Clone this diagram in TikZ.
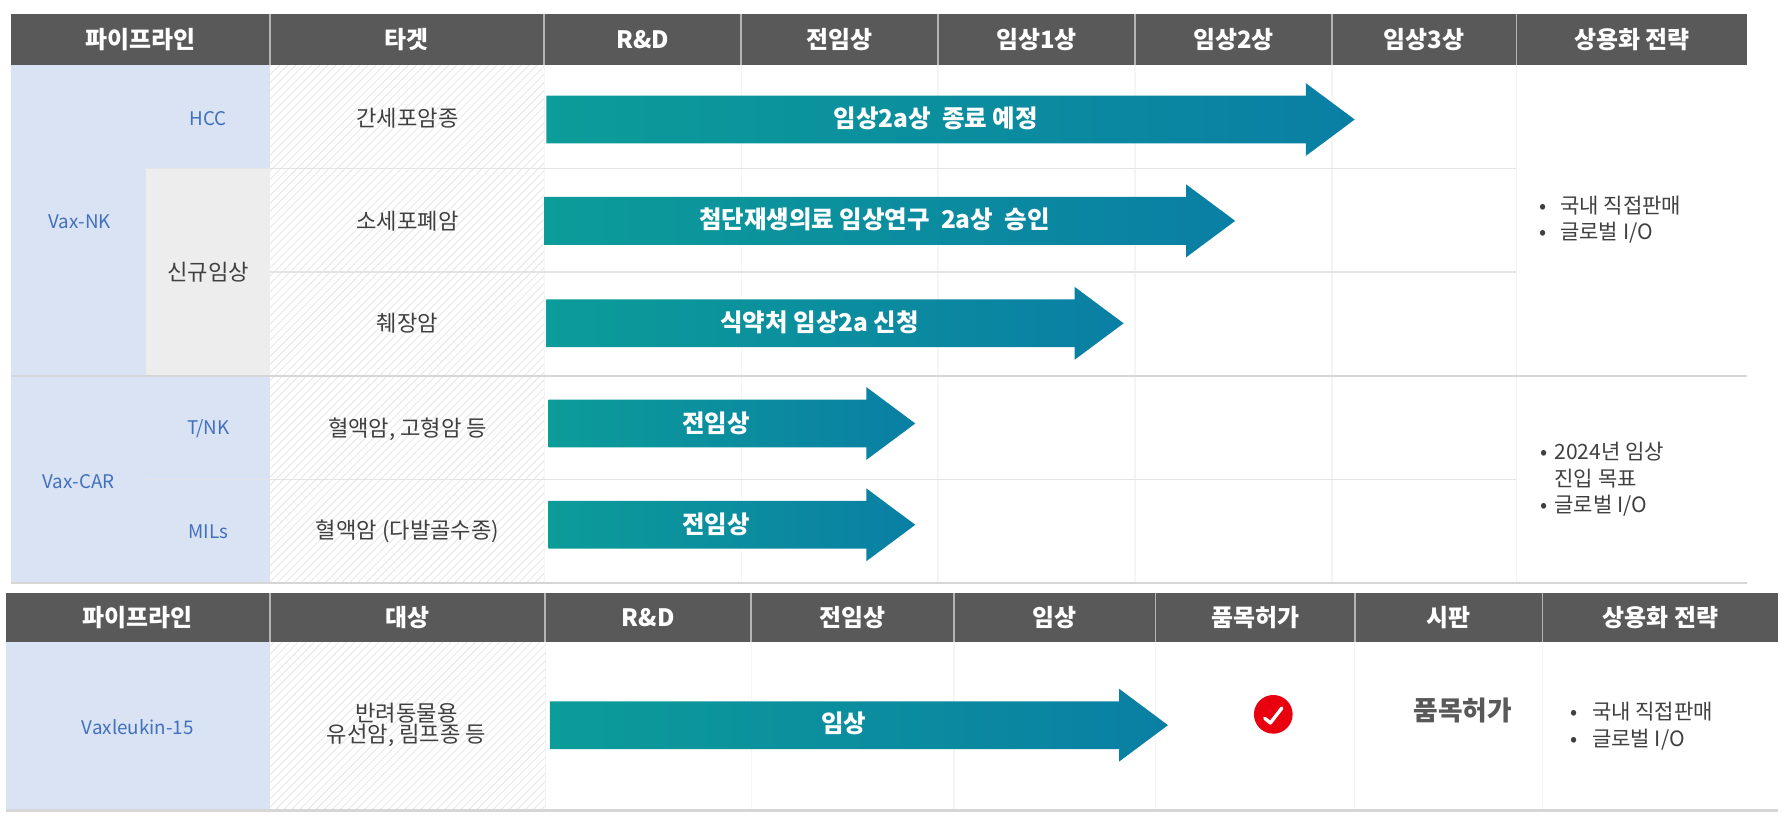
\documentclass[tikz,border=0pt]{standalone}
\usepackage{fontspec}
\setmainfont{Noto Sans CJK KR}
\usetikzlibrary{patterns.meta}
\definecolor{hdgray}{HTML}{595959}
\definecolor{hdline}{HTML}{B4B4B4}
\definecolor{pipeblue}{HTML}{DAE3F3}
\definecolor{pipetext}{HTML}{4170BD}
\definecolor{newgray}{HTML}{EDEDED}
\definecolor{rowline}{HTML}{E4E4E4}
\definecolor{mainline}{HTML}{D6D6D6}
\definecolor{colline}{HTML}{F5F5F5}
\definecolor{hatchgray}{HTML}{E6E6E6}
\definecolor{bodytext}{HTML}{404040}
\definecolor{arrL}{HTML}{0C9C99}
\definecolor{arrR}{HTML}{0A7FA4}
\definecolor{chkred}{HTML}{E8000F}
\begin{document}
\begin{tikzpicture}[x=1pt,y=-1pt,line join=round,
	hd/.style={text=white,font=\fontsize{21}{24}\selectfont\bfseries},
	pl/.style={text=pipetext,font=\fontsize{16.5}{19}\selectfont},
	tg/.style={text=bodytext,font=\fontsize{19.5}{22}\selectfont,align=center},
	br/.style={text=white,font=\fontsize{21.5}{24}\selectfont\bfseries},
	st/.style={text=bodytext,font=\fontsize{18.5}{23.5}\selectfont,align=left,anchor=west},
	sep/.style={rowline,line width=1.2pt},
	hatch/.style={pattern={Lines[angle=45,distance=5pt,line width=0.7pt]},pattern color=hatchgray}]
	\def\pbar#1#2#3{\shade[left color=arrL,right color=arrR] (#1,#3-21)--(#2-43,#3-21)--(#2-43,#3-32)--(#2,#3)--(#2-43,#3+32)--(#2-43,#3+21)--(#1,#3+21)--cycle;}
	\def\bl#1{\makebox[#1pt][l]{•}}
	\fill[white] (0,0) rectangle (1568,720);
	\useasboundingbox (0,0) rectangle (1568,720);
	% upper table
	\fill[pipeblue] (10,57) rectangle (237,512);
	\fill[newgray] (128,148) rectangle (237,330);
	\fill[hatch] (237,57) rectangle (478,512);
	\foreach \x in {478,651,824,997,1170,1332}
		\draw[colline,line width=1pt] (\x,57)--(\x,512);
	\draw[sep] (128,148)--(1332,148);
	\draw[sep] (237,239)--(1332,239);
	\draw[sep] (128,421)--(1332,421);
	\draw[mainline,line width=1.5pt] (10,330)--(1535,330);
	\draw[mainline,line width=2pt] (10,512)--(1535,512);
	\fill[hdgray] (10,12) rectangle (1535,57);
	\foreach \x in {237,478,651,824,997,1170,1332}
		\draw[hdline,line width=1.5pt] (\x,12)--(\x,57);
	\foreach \a/\b/\t [count=\i] in {10/237/파이프라인,237/478/타겟,478/651/R\&D,651/824/전임상,824/997/임상1상,997/1170/임상2상,1170/1332/임상3상,1332/1535/상용화 전략}
		\node[hd] (hA\i) at ({(\a+\b)/2},34.5) {\t};
	\node[pl] (vaxnk) at (70,195) {Vax-NK};
	\node[pl] (hcc) at (183,104) {HCC};
	\node[tg] (newcl) at (183,239) {신규임상};
	\node[pl] (vaxcar) at (69,423) {Vax-CAR};
	\node[pl] (tnk) at (183,377) {T/NK};
	\node[pl] (mils) at (183,467) {MILs};
	\node[tg] (tg1) at (358,104) {간세포암종};
	\node[tg] (tg2) at (358,194) {소세포폐암};
	\node[tg] (tg3) at (358,284) {췌장암};
	\node[tg] (tg4) at (358,377) {혈액암, 고형암 등};
	\node[tg] (tg5) at (358,467) {혈액암 (다발골수종)};
	\pbar{480}{1190}{105}
	\pbar{478}{1085}{194}
	\pbar{480}{987}{284}
	\pbar{482}{804}{372}
	\pbar{482}{804}{461}
	\node[br] (ar1) at (822,104) {임상2a상~ 종료 예정};
	\node[br] (ar2) at (768,193) {첨단재생의료 임상연구 ~2a상~ 승인};
	\node[br] (ar3) at (720,283) {식약처 임상2a 신청};
	\node[br] (ar4) at (629,372) {전임상};
	\node[br] (ar5) at (629,461) {전임상};
	\node[st] (strA) at (1349,193) {\bl{18}국내 직접판매\\\bl{18}글로벌 I/O};
	\node[st] (strB) at (1350,421) {\bl{12}2024년 임상\\\hspace{12pt}진입 목표\\\bl{12}글로벌 I/O};
	% lower table
	\fill[pipeblue] (5,564) rectangle (237,712);
	\fill[hatch] (237,564) rectangle (479,712);
	\foreach \x in {479,660,838,1015,1190,1355}
		\draw[colline,line width=1pt] (\x,564)--(\x,712);
	\draw[mainline,line width=2pt] (5,712)--(1562,712);
	\fill[hdgray] (5,521) rectangle (1562,564);
	\foreach \x in {237,479,660,838,1015,1190,1355}
		\draw[hdline,line width=1.5pt] (\x,521)--(\x,564);
	\foreach \a/\b/\t [count=\i] in {5/237/파이프라인,237/479/대상,479/660/R\&D,660/838/전임상,838/1015/임상,1015/1190/품목허가,1190/1355/시판,1355/1562/상용화 전략}
		\node[hd] (hB\i) at ({(\a+\b)/2},542.5) {\t};
	\node[pl] (vaxl) at (121,639) {Vaxleukin-15};
	\node[tg] (tg6) at (357,637) {반려동물용\\[-4pt]유선암, 림프종 등};
	\pbar{483}{1026}{637}
	\node[br] (ar6) at (741,635) {임상};
	\node[circle,fill=chkred,minimum size=34pt,inner sep=0pt] (chk) at (1118.5,627.5) {};
	\draw[white,line width=3pt,line cap=round] (1111,631)--(1116,635)--(1126,622);
	\node[text=hdgray,font=\fontsize{23.5}{26}\selectfont\bfseries] (appr) at (1285,624) {품목허가};
	\node[st] (strC) at (1376,638) {\bl{19}국내 직접판매\\\bl{19}글로벌 I/O};
\end{tikzpicture}
\end{document}
